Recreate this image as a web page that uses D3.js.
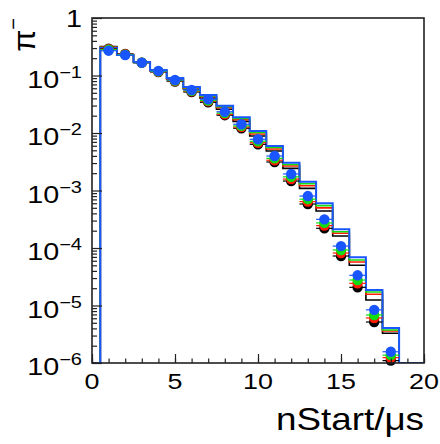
<!DOCTYPE html>
<html>
<head>
<meta charset="utf-8">
<script src="https://cdn.jsdelivr.net/npm/d3@7"></script>
<style>
  body { margin: 0; background: #fff; }
  svg { display: block; }
  text { font-family: "Liberation Sans", Arial, Helvetica, sans-serif; fill: #000; }
</style>
</head>
<body>
<svg id="chart" width="440" height="444"></svg>
<script>
// Bin centres (µs), one bin per microsecond
const binCenters = [1, 2, 3, 4, 5, 6, 7, 8, 9, 10, 11, 12, 13, 14, 15, 16, 17, 18];

// Histogram contents (step lines)
const histBlack = [0.3194, 0.2318, 0.1683, 0.1198, 0.0852, 0.0582, 0.0406, 0.02594, 0.01596, 0.00887, 0.00486, 0.00243, 0.00109, 4.40e-4, 1.62e-4, 5.00e-5, 1.25e-5, 3.29e-6];
const histRed   = [0.3131, 0.2265, 0.1697, 0.1217, 0.0869, 0.0601, 0.0426, 0.02743, 0.01703, 0.00961, 0.00527, 0.00266, 0.00121, 4.98e-4, 1.80e-4, 5.71e-5, 1.57e-5, 3.60e-6];
const histGreen = [0.3069, 0.2270, 0.1703, 0.1231, 0.0887, 0.0616, 0.0442, 0.02867, 0.01788, 0.01020, 0.00559, 0.00284, 0.00131, 5.46e-4, 1.92e-4, 6.18e-5, 1.72e-5, 3.75e-6];
const histBlue  = [0.3008, 0.2273, 0.1717, 0.1247, 0.0905, 0.0631, 0.0458, 0.02985, 0.01876, 0.01083, 0.00594, 0.00304, 0.00142, 5.99e-4, 2.12e-4, 6.89e-5, 1.86e-5, 4.06e-6];

// Data points (markers with half-bin x errors)
const ptsBlack = [0.292, 0.237, 0.167, 0.115, 0.0787, 0.0516, 0.0342, 0.0204, 0.0121, 0.00636, 0.00313, 0.00146, 5.82e-4, 2.20e-4, 7.26e-5, 2.07e-5, 5.16e-6, 1.10e-6];
const ptsRed   = [0.2866, 0.2337, 0.167, 0.1165, 0.0802, 0.0529, 0.0356, 0.0212, 0.01267, 0.00676, 0.00336, 0.00158, 6.41e-4, 2.45e-4, 8.18e-5, 2.43e-5, 6.07e-6, 1.24e-6];
const ptsGreen = [0.2810, 0.2309, 0.167, 0.1179, 0.0815, 0.0542, 0.0367, 0.0222, 0.01329, 0.00718, 0.00362, 0.00173, 7.06e-4, 2.73e-4, 9.23e-5, 2.77e-5, 6.84e-6, 1.37e-6];
const ptsBlue  = [0.270, 0.227, 0.167, 0.120, 0.0835, 0.056, 0.0386, 0.0234, 0.0142, 0.00777, 0.00398, 0.00194, 8.0e-4, 3.15e-4, 1.08e-4, 3.35e-5, 8.4e-6, 1.57e-6];

// Axis ticks
const xMajorTicks = [0, 5, 10, 15, 20];
const xMinorTicks = d3.range(0, 21, 1);
const yMajorExponents = [0, -1, -2, -3, -4, -5, -6];

const series = [
  { name: "black", color: "#000000", hist: histBlack, pts: ptsBlack },
  { name: "red",   color: "#ff1a00", hist: histRed,   pts: ptsRed },
  { name: "green", color: "#11dd11", hist: histGreen, pts: ptsGreen },
  { name: "blue",  color: "#1a56ff", hist: histBlue,  pts: ptsBlue }
];

const W = 440, H = 444;
const margin = { left: 92, right: 16, top: 18, bottom: 81 };
const x0 = margin.left, x1 = W - margin.right;
const y0 = margin.top, y1 = H - margin.bottom;

const x = d3.scaleLinear().domain([0, 20]).range([x0, x1]);
const y = d3.scaleLog().domain([1e-6, 1]).range([y1, y0]);
const yc = v => (v > 0 ? Math.min(y(v), y1) : y1);

const svg = d3.select("#chart");

svg.append("clipPath").attr("id", "frameClip")
  .append("rect").attr("x", x0).attr("y", y0).attr("width", x1 - x0).attr("height", y1 - y0);

// Histogram outlines: empty bins sit on the frame bottom
const stepLine = d3.line()
  .x(d => x(d.x))
  .y(d => yc(d.v))
  .curve(d3.curveStepAfter);

function edgesOf(values) {
  const pts = [{ x: 0, v: 0 }];
  values.forEach((v, i) => pts.push({ x: binCenters[i] - 0.5, v }));
  pts.push({ x: binCenters[binCenters.length - 1] + 0.5, v: 0 });
  pts.push({ x: 20, v: 0 });
  return pts;
}

const plot = svg.append("g");

series.forEach(s => {
  plot.append("path")
    .attr("clip-path", "url(#frameClip)")
    .attr("d", stepLine(edgesOf(s.hist)))
    .attr("fill", "none")
    .attr("stroke", s.color)
    .attr("stroke-width", s.name === "blue" ? 2 : 1.6);
});

series.forEach(s => {
  const g = plot.append("g");
  g.selectAll("line.xerr").data(s.pts).join("line")
    .attr("class", "xerr")
    .attr("x1", (d, i) => x(binCenters[i] - 0.5))
    .attr("x2", (d, i) => x(binCenters[i] + 0.5))
    .attr("y1", d => y(d)).attr("y2", d => y(d))
    .attr("stroke", s.color).attr("stroke-width", 1.2);
  g.selectAll("circle").data(s.pts).join("circle")
    .attr("cx", (d, i) => x(binCenters[i]))
    .attr("cy", d => y(d))
    .attr("r", 5.2)
    .attr("fill", s.color);
});

// Frame
svg.append("rect")
  .attr("x", x0).attr("y", y0).attr("width", x1 - x0).attr("height", y1 - y0)
  .attr("fill", "none").attr("stroke", "#222").attr("stroke-width", 1.6);

// Axes with inward ticks
const axisStyle = g => {
  g.select(".domain").remove();
  g.selectAll(".tick line").attr("stroke", "#222").attr("stroke-width", 1.2);
};

svg.append("g").attr("transform", `translate(0,${y1})`)
  .call(d3.axisBottom(x).tickValues(xMinorTicks).tickSize(-4.5).tickFormat(""))
  .call(axisStyle);
svg.append("g").attr("transform", `translate(0,${y1})`)
  .call(d3.axisBottom(x).tickValues(xMajorTicks).tickSize(-9).tickFormat(""))
  .call(axisStyle);

const yMinor = [];
yMajorExponents.slice(1).forEach(e => { for (let k = 2; k <= 9; k++) yMinor.push(k * Math.pow(10, e)); });
const yMajor = yMajorExponents.map(e => Math.pow(10, e));

svg.append("g").attr("transform", `translate(${x0},0)`)
  .call(d3.axisLeft(y).tickValues(yMinor).tickSize(-5).tickFormat(""))
  .call(axisStyle);
svg.append("g").attr("transform", `translate(${x0},0)`)
  .call(d3.axisLeft(y).tickValues(yMajor).tickSize(-10).tickFormat(""))
  .call(axisStyle);

// X tick labels
svg.append("g").selectAll("text").data(xMajorTicks).join("text")
  .attr("transform", d => `translate(${x(d)},${y1 + 26}) scale(1.22,1)`)
  .attr("text-anchor", "middle")
  .attr("font-size", 22)
  .text(d => d);

// Y tick labels: powers of ten
const yLab = svg.append("g");
yMajorExponents.forEach(e => {
  const ty = y(Math.pow(10, e));
  const t = yLab.append("text")
    .attr("text-anchor", "end")
    .attr("font-size", 23);
  if (e === 0) {
    t.attr("transform", `translate(82,${ty + 8.5}) scale(1.25,1)`).text("1");
  } else {
    t.attr("transform", `translate(82,${ty + 12}) scale(1.25,1)`);
    t.append("tspan").text("10");
    t.append("tspan").attr("font-size", 16).attr("dy", -10).text("\u2212" + Math.abs(e));
  }
});

// Axis titles
svg.append("text")
  .attr("transform", `translate(${x1},430) scale(1.15,1)`)
  .attr("text-anchor", "end")
  .attr("font-size", 32)
  .text("nStart/\u03bcs");

const yt = svg.append("text")
  .attr("transform", `translate(35,${y0}) rotate(-90)`)
  .attr("text-anchor", "end")
  .attr("font-size", 32);
yt.append("tspan").text("\u03c0");
yt.append("tspan").attr("font-size", 20).attr("dy", -15).text("\u2212");
</script>
</body>
</html>
